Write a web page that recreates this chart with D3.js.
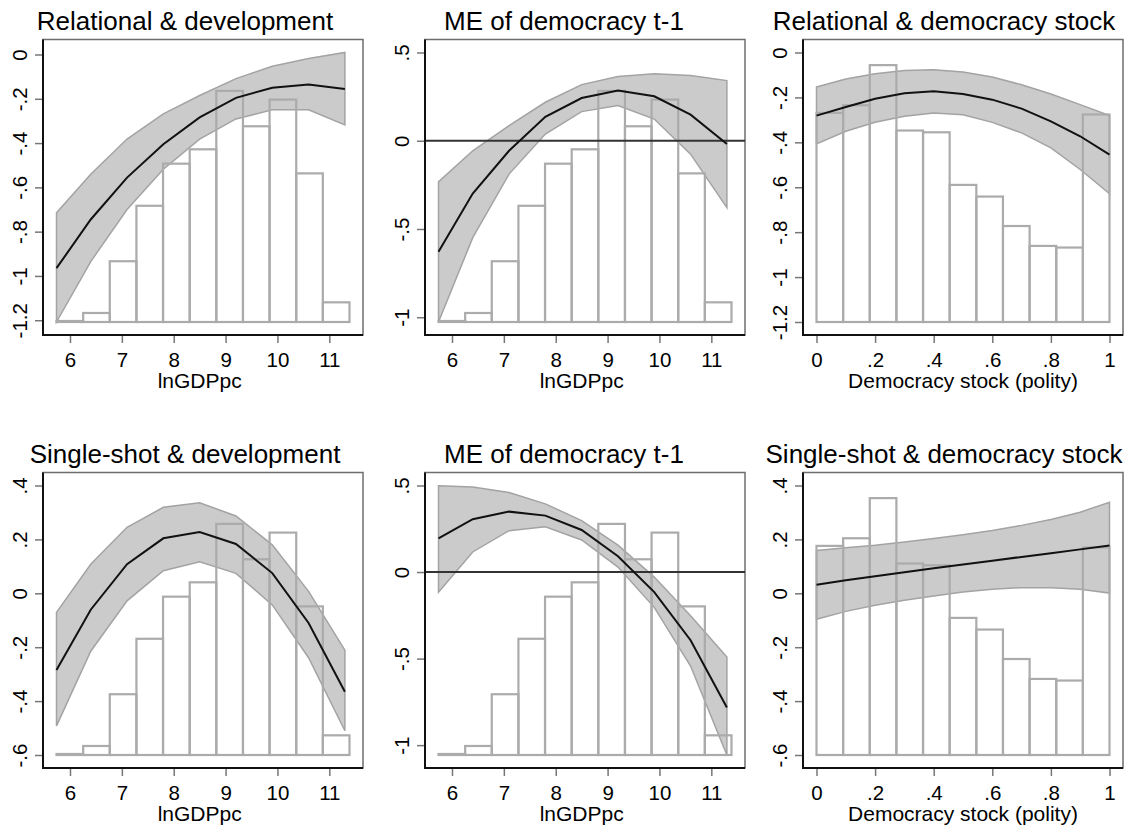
<!DOCTYPE html>
<html>
<head>
<meta charset="utf-8">
<script src="https://cdn.jsdelivr.net/npm/d3@7"></script>
<style>
  body { margin: 0; background: #fff; }
  text { font-family: "Liberation Sans", Arial, sans-serif; fill: #000; }
</style>
</head>
<body>
<div id="chart"></div>
<script>
// Valores de x donde se evaluan las curvas
const gdpX = [5.74, 6.4, 7.1, 7.8, 8.5, 9.2, 9.9, 10.6, 11.3];
const stockX = [0, 0.1, 0.2, 0.3, 0.4, 0.5, 0.6, 0.7, 0.8, 0.9, 1];

// Relational & development
const relDevFit = [-0.965, -0.745, -0.556, -0.405, -0.284, -0.196, -0.150, -0.135, -0.156];
const relDevHi  = [-0.715, -0.541, -0.382, -0.268, -0.185, -0.109, -0.053, -0.018, 0.009];
const relDevLo  = [-1.208, -0.935, -0.700, -0.518, -0.382, -0.291, -0.250, -0.250, -0.318];

// ME of democracy t-1 (relational)
const meRelFit = [-0.629, -0.299, -0.057, 0.136, 0.242, 0.284, 0.252, 0.148, -0.019];
const meRelHi  = [-0.233, -0.057, 0.085, 0.218, 0.318, 0.364, 0.379, 0.369, 0.341];
const meRelLo  = [-1.027, -0.549, -0.189, 0.038, 0.165, 0.199, 0.123, -0.076, -0.379];

// Relational & democracy stock
const relStockFit = [-0.281, -0.243, -0.206, -0.181, -0.173, -0.185, -0.210, -0.250, -0.307, -0.373, -0.455];
const relStockHi  = [-0.154, -0.118, -0.095, -0.080, -0.077, -0.087, -0.109, -0.144, -0.185, -0.232, -0.281];
const relStockLo  = [-0.407, -0.351, -0.311, -0.284, -0.269, -0.277, -0.311, -0.358, -0.425, -0.521, -0.629];

// Single-shot & development
const sinDevFit = [-0.285, -0.061, 0.108, 0.204, 0.227, 0.183, 0.075, -0.110, -0.365];
const sinDevHi  = [-0.071, 0.108, 0.245, 0.319, 0.336, 0.287, 0.180, 0.007, -0.211];
const sinDevLo  = [-0.492, -0.215, -0.028, 0.084, 0.117, 0.074, -0.043, -0.239, -0.510];

// ME of democracy t-1 (single-shot)
const meSinFit = [0.194, 0.305, 0.349, 0.326, 0.243, 0.091, -0.116, -0.394, -0.782];
const meSinHi  = [0.499, 0.491, 0.460, 0.394, 0.297, 0.155, -0.029, -0.252, -0.491];
const meSinLo  = [-0.116, 0.116, 0.239, 0.262, 0.185, 0.029, -0.204, -0.543, -1.057];

// Single-shot & democracy stock
const sinStockFit = [0.032, 0.048, 0.063, 0.078, 0.093, 0.107, 0.121, 0.135, 0.149, 0.163, 0.177];
const sinStockHi  = [0.159, 0.169, 0.178, 0.190, 0.203, 0.217, 0.233, 0.252, 0.274, 0.301, 0.338];
const sinStockLo  = [-0.096, -0.067, -0.044, -0.026, -0.010, 0.005, 0.015, 0.021, 0.021, 0.015, 0.001];

// Histogramas (densidad)
const gdpBins = [5.74, 6.254, 6.767, 7.281, 7.794, 8.308, 8.821, 9.335, 9.848, 10.362, 10.875, 11.389];
const gdpDensity = [0.0015, 0.0134, 0.0902, 0.1725, 0.2350, 0.2563, 0.3430, 0.2905, 0.3301, 0.2206, 0.0292];
const stockBins = [0, 0.0909, 0.1818, 0.2727, 0.3636, 0.4545, 0.5455, 0.6364, 0.7273, 0.8182, 0.9091, 1];
const stockDensity = [1.292, 1.339, 1.587, 1.183, 1.172, 0.847, 0.775, 0.593, 0.470, 0.460, 1.282];

// Ticks
const gdpTicks = [6, 7, 8, 9, 10, 11];
const stockTicks = [0, 0.2, 0.4, 0.6, 0.8, 1];
const relTicks = [0, -0.2, -0.4, -0.6, -0.8, -1, -1.2];
const meTicks = [0.5, 0, -0.5, -1];
const sinTicks = [0.4, 0.2, 0, -0.2, -0.4, -0.6];

const titles = ["Relational & development", "ME of democracy t-1", "Relational & democracy stock",
                "Single-shot & development", "ME of democracy t-1", "Single-shot & democracy stock"];
const xTitles = ["lnGDPpc", "Democracy stock (polity)"];

// Caracteristicas del canvas
const width = 1127, height = 827;
const boxLefts = [43, 425, 803];
const boxTops = [39.5, 472.5];
const boxW = 320, boxH = 295.5;
const padX = 13.5, padY = 13;
const cellCenters = [185, 564, 944];

const svg = d3.select("#chart").append("svg")
    .attr("width", width).attr("height", height);

const fmt = d => String(d).replace(/^(-?)0\./, "$1.");

const panels = [
  { x: gdpX, fit: relDevFit, hi: relDevHi, lo: relDevLo, bins: gdpBins, dens: gdpDensity, hMax: 0.4, xt: gdpTicks, yt: relTicks, zero: false, xl: 0 },
  { x: gdpX, fit: meRelFit, hi: meRelHi, lo: meRelLo, bins: gdpBins, dens: gdpDensity, hMax: 0.4, xt: gdpTicks, yt: meTicks, zero: true, xl: 0 },
  { x: stockX, fit: relStockFit, hi: relStockHi, lo: relStockLo, bins: stockBins, dens: stockDensity, hMax: 1.665, xt: stockTicks, yt: relTicks, zero: false, xl: 1 },
  { x: gdpX, fit: sinDevFit, hi: sinDevHi, lo: sinDevLo, bins: gdpBins, dens: gdpDensity, hMax: 0.4, xt: gdpTicks, yt: sinTicks, zero: false, xl: 0 },
  { x: gdpX, fit: meSinFit, hi: meSinHi, lo: meSinLo, bins: gdpBins, dens: gdpDensity, hMax: 0.4, xt: gdpTicks, yt: meTicks, zero: true, xl: 0 },
  { x: stockX, fit: sinStockFit, hi: sinStockHi, lo: sinStockLo, bins: stockBins, dens: stockDensity, hMax: 1.665, xt: stockTicks, yt: sinTicks, zero: false, xl: 1 }
];

panels.forEach((p, i) => {
  const col = i % 3, row = Math.floor(i / 3);
  const left = boxLefts[col], top = boxTops[row];
  const g = svg.append("g").attr("transform", `translate(${left},${top})`);

  // Escalas: rango de los datos (como Stata)
  const xExt = d3.extent(p.x.concat(p.bins));
  const x = d3.scaleLinear().domain(xExt).range([padX, boxW - padX]);
  const yExt = d3.extent(p.lo.concat(p.hi, p.fit, p.yt));
  const y = d3.scaleLinear().domain(yExt).range([boxH - padY, padY]);
  const y2 = d3.scaleLinear().domain([0, p.hMax]).range([boxH - padY, padY]);

  const pts = p.x.map((v, k) => ({ x: v, fit: p.fit[k], hi: p.hi[k], lo: p.lo[k] }));

  // Caja
  g.append("rect").attr("x", 0).attr("y", 0).attr("width", boxW).attr("height", boxH)
    .attr("fill", "none").attr("stroke", "#6e6e6e").attr("stroke-width", 1.5);

  // Banda de confianza
  g.append("path").datum(pts)
    .attr("d", d3.area().x(d => x(d.x)).y0(d => y(d.lo)).y1(d => y(d.hi)))
    .attr("fill", "#cbcbcb").attr("stroke", "#a3a3a3").attr("stroke-width", 1.5);

  // Histograma
  g.selectAll("rect.bar").data(p.dens).enter().append("rect")
    .attr("class", "bar")
    .attr("x", (d, k) => x(p.bins[k]))
    .attr("width", (d, k) => x(p.bins[k + 1]) - x(p.bins[k]))
    .attr("y", d => y2(d))
    .attr("height", d => y2(0) - y2(d))
    .attr("fill", "none").attr("stroke", "#ababab").attr("stroke-width", 2.2);

  // Linea de cero
  if (p.zero) {
    g.append("line").attr("x1", 0).attr("x2", boxW).attr("y1", y(0)).attr("y2", y(0))
      .attr("stroke", "#333").attr("stroke-width", 2);
  }

  // Curva estimada
  g.append("path").datum(pts)
    .attr("d", d3.line().x(d => x(d.x)).y(d => y(d.fit)))
    .attr("fill", "none").attr("stroke", "#111").attr("stroke-width", 2);

  // Eje y
  const ya = g.append("g").call(d3.axisLeft(y).tickValues(p.yt).tickSize(8).tickFormat(fmt));
  ya.select(".domain").remove();
  ya.selectAll(".tick line").attr("stroke", "#777").attr("stroke-width", 1.5);
  ya.selectAll(".tick text")
    .attr("x", 0).attr("y", -16).attr("dy", 0)
    .attr("transform", "rotate(-90)")
    .attr("text-anchor", "middle")
    .style("font-size", "20.5px");

  // Eje x
  const xa = g.append("g").attr("transform", `translate(0,${boxH})`)
    .call(d3.axisBottom(x).tickValues(p.xt).tickSize(8).tickFormat(fmt));
  xa.select(".domain").remove();
  xa.selectAll(".tick line").attr("stroke", "#777").attr("stroke-width", 1.5);
  xa.selectAll(".tick text").attr("y", 32).attr("dy", 0).style("font-size", "20.5px");

  // Lineas de los ejes
  g.append("line").attr("x1", 0).attr("x2", 0).attr("y1", 0).attr("y2", boxH + 1)
    .attr("stroke", "#111").attr("stroke-width", 2);
  g.append("line").attr("x1", -1).attr("x2", boxW).attr("y1", boxH).attr("y2", boxH)
    .attr("stroke", "#111").attr("stroke-width", 2);

  // Titulo del eje x
  g.append("text").attr("x", x((p.xt[0] + p.xt[p.xt.length - 1]) / 2)).attr("y", boxH + 53)
    .attr("text-anchor", "middle").style("font-size", "21px").text(xTitles[p.xl]);

  // Titulo
  svg.append("text").attr("x", cellCenters[col]).attr("y", row === 0 ? 30 : 463)
    .attr("text-anchor", "middle").style("font-size", "26px").text(titles[i]);
});
</script>
</body>
</html>
